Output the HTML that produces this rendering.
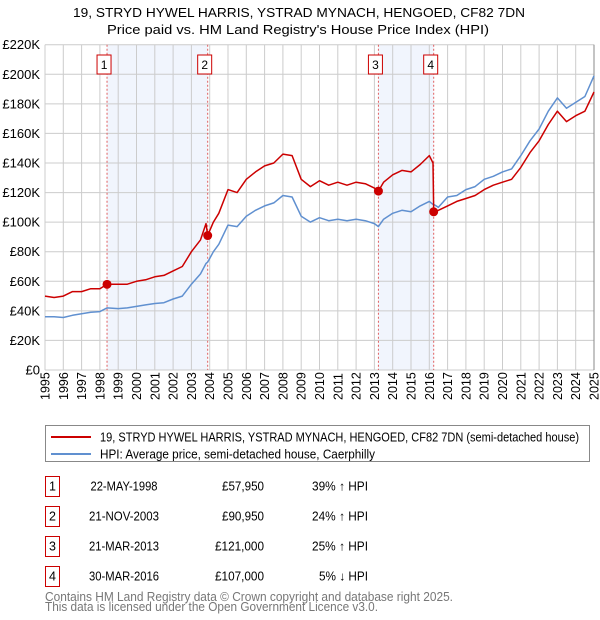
<!DOCTYPE html>
<html><head><meta charset="utf-8"><style>
body{margin:0;background:#fff;font-family:"Liberation Sans","DejaVu Sans",sans-serif;}
#wrap{position:relative;width:600px;height:620px;overflow:hidden}
</style></head><body><div id="wrap">
<svg id="svg" width="600" height="620" style="position:absolute;left:0;top:0"></svg>
</div>
<script>
const years=[1995,1995.5,1996,1996.5,1997,1997.5,1998,1998.39,1999,1999.5,2000,2000.5,2001,2001.5,2002,2002.5,2003,2003.5,2003.8,2003.89,2004.2,2004.5,2005,2005.5,2006,2006.5,2007,2007.5,2008,2008.5,2009,2009.5,2010,2010.5,2011,2011.5,2012,2012.5,2013,2013.22,2013.5,2014,2014.5,2015,2015.5,2016,2016.2,2016.24,2016.5,2017,2017.5,2018,2018.5,2019,2019.5,2020,2020.5,2021,2021.5,2022,2022.5,2023,2023.5,2024,2024.5,2025];
const hpiValues=[36,36,35.5,37,38,39,39.5,42,41.5,42,43,44,45,45.5,48,50,58,65,72,73,80,85,98,97,104,108,111,113,118,117,104,100,103,101,102,101,102,101,99,97,102,106,108,107,111,114,112,112,110,117,118,122,124,129,131,134,136,145,155,163,175,184,177,181,185,199];
const priceValues=[50,49,50,53,53,55,55,58,58,58,60,61,63,64,67,70,80,88,99,91,100,106,122,120,129,134,138,140,146,145,129,124,128,125,127,125,127,126,123,121,127,132,135,134,139,145,140,107,108,111,114,116,118,122,125,127,129,137,147,155,166,175,168,172,175,188];
const saleYears=[1998.39,2003.89,2013.22,2016.24];
const salePrices=[57.95,90.95,121,107];
const saleLabels=["1","2","3","4"];
const yTicks=[0,20,40,60,80,100,120,140,160,180,200,220];
const yTickLabels=["£0","£20K","£40K","£60K","£80K","£100K","£120K","£140K","£160K","£180K","£200K","£220K"];
const xTicks=[1995,1996,1997,1998,1999,2000,2001,2002,2003,2004,2005,2006,2007,2008,2009,2010,2011,2012,2013,2014,2015,2016,2017,2018,2019,2020,2021,2022,2023,2024,2025];
const rows=[["1","22-MAY-1998","£57,950","39% ↑ HPI"],["2","21-NOV-2003","£90,950","24% ↑ HPI"],["3","21-MAR-2013","£121,000","25% ↑ HPI"],["4","30-MAR-2016","£107,000","5% ↓ HPI"]];

const X0=45,X1=594,Y0=370,Y1=44.7;
const xs=y=>X0+(y-1995)/30*(X1-X0);
const ys=v=>Y0-v/220*(Y0-Y1);
const svg=document.getElementById('svg');
const NS='http://www.w3.org/2000/svg';
const FF='Liberation Sans, DejaVu Sans, sans-serif';
function mk(t,a,p){const e=document.createElementNS(NS,t);for(const k in a)e.setAttribute(k,a[k]);(p||svg).appendChild(e);return e;}
function txt(s,a,len){const e=mk('text',Object.assign({'font-family':FF},a));e.textContent=s;if(len){e.setAttribute('textLength',len);e.setAttribute('lengthAdjust','spacingAndGlyphs');}return e;}
let e;
for(let i=0;i<4;i+=2){e=mk('rect',{x:xs(saleYears[i]),y:Y1,width:xs(saleYears[i+1])-xs(saleYears[i]),height:Y0-Y1,fill:'#eef3fd',opacity:0.8});

}
xTicks.forEach(t=>{e=mk('line',{x1:xs(t),x2:xs(t),y1:Y1,y2:Y0,stroke:'#cccccc','stroke-width':1});


e=txt(t,{x:0,y:0,transform:`translate(${xs(t)+4.5},${Y0+30}) rotate(-90)`,'font-size':12.5,'text-anchor':'start'});

});
yTicks.forEach((t,i)=>{e=mk('line',{x1:X0,x2:X1,y1:ys(t),y2:ys(t),stroke:'#cccccc','stroke-width':1});


e=txt(yTickLabels[i],{x:40,y:ys(t)+4.5,'font-size':13,'text-anchor':'end'});

});
e=mk('line',{x1:X1,x2:X1,y1:Y1,y2:Y0,stroke:'#888','stroke-width':1});


saleYears.forEach((s,i)=>{e=mk('line',{x1:xs(s),x2:xs(s),y1:Y1,y2:Y0,stroke:'#e06060','stroke-width':1,'stroke-dasharray':'2,2'});


e=mk('rect',{x:xs(s)-10,y:55,width:14,height:19,fill:'#fff',stroke:'#cc0000','stroke-width':1});


e=txt(saleLabels[i],{x:xs(s)-3,y:69,'font-size':12,'text-anchor':'middle'});

});
function path(vals,col,name){let d='';years.forEach((y,i)=>{d+=(i?'L':'M')+xs(y).toFixed(1)+','+ys(vals[i]).toFixed(1);});
const p=mk('path',{d:d,fill:'none',stroke:col,'stroke-width':1.5,'stroke-linejoin':'round'});

}
path(hpiValues,'#6090d0','hpi-line');
path(priceValues,'#cc0000','price-paid-line');
saleYears.forEach((s,i)=>{e=mk('circle',{cx:xs(s),cy:ys(salePrices[i]),r:4.5,fill:'#cc0000'});

});
[["19, STRYD HYWEL HARRIS, YSTRAD MYNACH, HENGOED, CF82 7DN",17,73,452],["Price paid vs. HM Land Registry's House Price Index (HPI)",34,107,382]].forEach(([s,y,x,l])=>{e=txt(s,{x:x,y:y,'font-size':13},l);

});
e=mk('rect',{x:45.5,y:425.5,width:544,height:36,fill:'#fff',stroke:'#888'});


[["#cc0000","19, STRYD HYWEL HARRIS, YSTRAD MYNACH, HENGOED, CF82 7DN (semi-detached house)",437,479],["#6090d0","HPI: Average price, semi-detached house, Caerphilly",454,275]].forEach(([c,s,y,l])=>{
e=mk('line',{x1:51,x2:91,y1:y,y2:y,stroke:c,'stroke-width':2});


e=txt(s,{x:100,y:y+4.5,'font-size':12.5},l);

});
const colX=[[52.5,'middle'],[124,'middle'],[264,'end'],[368,'end']];
const colLen=[[0,67,42,56],[0,70,42,56],[0,70,49,56],[0,70,49,49]];
rows.forEach((r,i)=>{const y=486+i*30;
e=mk('rect',{x:45.5,y:y-9.5,width:14,height:20,fill:'#fff',stroke:'#cc0000'});


r.forEach((s,j)=>{e=txt(s,{x:colX[j][0],y:y+4.5,'font-size':12.5,'text-anchor':colX[j][1]},colLen[i][j]||null);

});});
[["Contains HM Land Registry data © Crown copyright and database right 2025.",601,408],["This data is licensed under the Open Government Licence v3.0.",611,333]].forEach(([s,y,l])=>{e=txt(s,{x:45,y:y,'font-size':12.5,fill:'#777'},l);

});
</script></body></html>
